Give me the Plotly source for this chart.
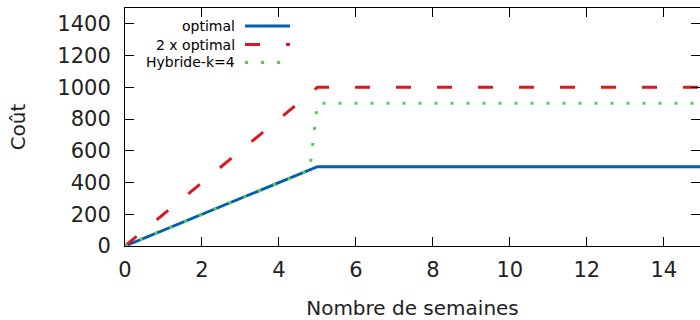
import plotly.graph_objects as go

# Data
weeks_opt = [0, 5, 15.2]
cost_opt = [0, 500, 500]
weeks_2x = [0, 5, 15.2]
cost_2x = [0, 1000, 1000]
weeks_hyb = [0, 4.8, 5, 15.2]
cost_hyb = [0, 480, 900, 900]
names = ["optimal", "2 x optimal", "Hybride-k=4"]
colors = ["#0060ad", "#e0161e", "#55cc55"]
dashes = ["solid", "15px,26px", "3px,13px"]
x_ticks = [0, 2, 4, 6, 8, 10, 12, 14]
y_ticks = [0, 200, 400, 600, 800, 1000, 1200, 1400]

FONT = "DejaVu Sans"
fig = go.Figure()
series = [(weeks_opt, cost_opt), (weeks_2x, cost_2x), (weeks_hyb, cost_hyb)]
for i in range(3):
    xs, ys = series[i]
    fig.add_trace(go.Scatter(x=xs, y=ys, mode="lines", name=names[i],
                             line=dict(color=colors[i], width=3, dash=dashes[i]),
                             showlegend=False, hoverinfo="skip"))

W, H = 700, 320
ml, mr, mt, mb = 125, 0, 8, 74
pw, ph = W - ml - mr, H - mt - mb
def px(xp): return (xp - ml) / pw
def py(yp): return 1 - (yp - mt) / ph
leg_y = [26, 44.5, 62.5]
for i in range(3):
    fig.add_annotation(x=px(237), y=py(leg_y[i]), xref="paper", yref="paper",
                       text=names[i], showarrow=False, xanchor="right", yanchor="middle",
                       font=dict(family=FONT, size=14, color="#000"))
    fig.add_shape(type="line", xref="paper", yref="paper",
                  x0=px(245), x1=px(290), y0=py(leg_y[i]), y1=py(leg_y[i]),
                  line=dict(color=colors[i], width=3, dash=dashes[i]))

axis_common = dict(showgrid=False, zeroline=False, showline=True, linecolor="#000",
                   linewidth=1, mirror="ticks", ticks="inside", ticklen=9,
                   tickcolor="#000", automargin=False,
                   tickfont=dict(family=FONT, size=21, color="#222"))
fig.update_layout(
    width=W, height=H, margin=dict(l=ml, r=mr, t=mt, b=mb),
    plot_bgcolor="white", paper_bgcolor="white",
    xaxis=dict(range=[0, 14.94], tickvals=x_ticks, ticklabelstandoff=5,
               title=dict(text="Nombre de semaines", font=dict(family=FONT, size=20, color="#222"),
                          standoff=22),
               **axis_common),
    yaxis=dict(range=[0, 1500], tickvals=y_ticks, ticklabelstandoff=9,
               title=dict(text="Coût", font=dict(family=FONT, size=20, color="#222"),
                          standoff=26),
               **axis_common),
)
fig.write_html("out.html", config={"displayModeBar": False},
               post_script="document.body.style.margin='0';document.body.style.overflow='hidden';")
